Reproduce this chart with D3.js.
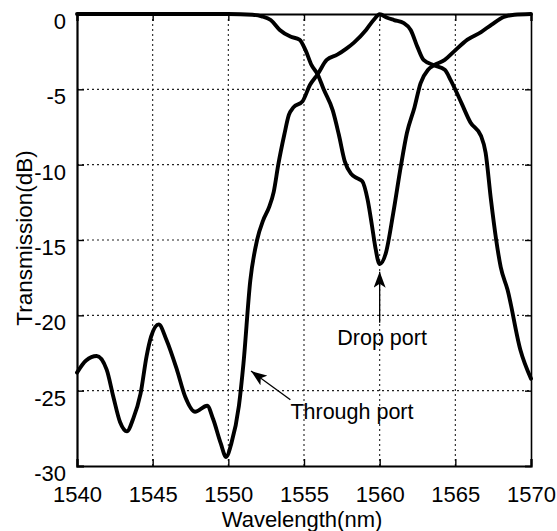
<!DOCTYPE html>
<html>
<head>
<meta charset="utf-8">
<script src="https://cdn.jsdelivr.net/npm/d3@7"></script>
<style>
  body { margin: 0; background: #fff; }
  text { font-family: "Liberation Sans", Arial, Helvetica, sans-serif; fill: #000; }
</style>
</head>
<body>
<div id="chart"></div>
<script>
// ===========================================
// data
var xTicks = [1540, 1545, 1550, 1555, 1560, 1565, 1570];
var yTicks = [0, -5, -10, -15, -20, -25, -30];

var throughWl = [1540, 1540.6, 1541.3, 1541.96, 1542.4, 1542.85, 1543.3, 1543.7, 1544.2, 1544.6,
  1544.9, 1545.4, 1545.9, 1546.6, 1547.15, 1547.8, 1548.6, 1549.0, 1549.5, 1549.85,
  1550.2, 1550.7, 1551.0, 1551.45, 1551.9, 1552.3, 1552.7, 1553.0, 1553.3, 1553.7,
  1554.0, 1554.3, 1554.9, 1555.4, 1555.9, 1556.5, 1557.2, 1557.8, 1558.3, 1559.1,
  1559.6, 1560.0, 1560.5, 1560.95, 1561.6, 1562.05, 1562.5, 1562.9, 1563.6, 1564.3,
  1564.7, 1565.4, 1566.0, 1566.7, 1567.0, 1567.35, 1567.7, 1568.0, 1568.45, 1569.3, 1570];
var throughDb = [-23.8, -23.0, -22.7, -23.6, -25.4, -27.1, -27.7, -26.9, -25.2, -22.7,
  -21.4, -20.6, -21.6, -23.6, -25.4, -26.4, -26.0, -26.9, -28.5, -29.4,
  -28.5, -26.0, -23.2, -17.7, -15.0, -13.7, -12.8, -11.8, -10.0, -8.0,
  -6.7, -6.2, -5.8, -4.7, -4.0, -3.05, -2.7, -2.3, -1.9, -1.06,
  -0.4, -0.02, -0.25, -0.4, -0.6, -1.06, -2.2, -3.05, -3.4, -3.7,
  -4.4, -5.9, -7.2, -8.1, -9.2, -12.3, -15.0, -16.8, -18.3, -22.3, -24.2];

var dropWl = [1540, 1545, 1550, 1551.6, 1552.2, 1552.8, 1553.4, 1554.1, 1554.7, 1555.1,
  1555.5, 1555.9, 1556.3, 1556.9, 1557.3, 1557.7, 1558.1, 1558.5, 1558.85, 1559.2,
  1559.5, 1559.7, 1560.0, 1560.4, 1560.9, 1561.4, 1561.8, 1562.3, 1562.7, 1563.2,
  1563.6, 1564.3, 1564.9, 1565.8, 1566.7, 1567.4, 1568.2, 1568.9, 1570];
var dropDb = [0, 0, 0, -0.05, -0.15, -0.4, -1.06, -1.5, -1.7, -2.4,
  -3.4, -4.0, -5.0, -6.4, -8.0, -9.8, -10.6, -10.9, -11.1, -12.3,
  -14.1, -15.4, -16.6, -15.9, -13.2, -10.1, -7.9, -6.2, -4.6, -3.7,
  -3.4, -3.05, -2.5, -1.7, -1.2, -0.7, -0.2, -0.05, 0];

// annotations (data units): text anchor and arrow tail -> tip
var labels = ["Drop port", "Through port"];
var labelAt = [[1557.2, -21.95], [1554.1, -26.9]];
var arrowFrom = [[1560.0, -20.5], [1554.1, -25.6]];
var arrowTo = [[1560.0, -17.1], [1551.5, -23.7]];

// ===========================================
// svg & chart area
var svgWidth = 557;
var svgHeight = 531;
var margin = {top: 14, right: 26, bottom: 65, left: 77};
var chartWidth = svgWidth - margin.left - margin.right;
var chartHeight = svgHeight - margin.top - margin.bottom;

var svg = d3.select("#chart")
    .append("svg")
    .attr("width", svgWidth)
    .attr("height", svgHeight);

var chartGroup = svg.append("g")
    .attr("transform", `translate(${margin.left},${margin.top})`);

var xscale = d3.scaleLinear().domain([1540, 1570]).range([0, chartWidth]);
var yscale = d3.scaleLinear().domain([-30, 0]).range([chartHeight, 0]);

// dotted grid
var inner = function(t, i, arr) { return i > 0 && i < arr.length - 1; };
chartGroup.selectAll(".vgrid")
    .data(xTicks.filter(inner))
    .enter().append("line")
    .attr("x1", d => xscale(d)).attr("x2", d => xscale(d))
    .attr("y1", 0).attr("y2", chartHeight)
    .attr("stroke", "#222").attr("stroke-width", 1.1)
    .attr("stroke-dasharray", "2,3");
chartGroup.selectAll(".hgrid")
    .data(yTicks.filter(inner))
    .enter().append("line")
    .attr("y1", d => yscale(d)).attr("y2", d => yscale(d))
    .attr("x1", 0).attr("x2", chartWidth)
    .attr("stroke", "#222").attr("stroke-width", 1.1)
    .attr("stroke-dasharray", "2,3");

// axes with inward ticks (plain hyphen minus like the original)
var fmt = d => String(d);
var bAxis = d3.axisBottom(xscale).tickValues(xTicks).tickSize(-7).tickPadding(20).tickFormat(fmt);
var lAxis = d3.axisLeft(yscale).tickValues(yTicks).tickSize(-7).tickPadding(12).tickFormat(fmt);
var tAxis = d3.axisTop(xscale).tickValues(xTicks).tickSize(-7).tickFormat("");
var rAxis = d3.axisRight(yscale).tickValues(yTicks).tickSize(-6).tickFormat("");

var gb = chartGroup.append("g").attr("transform", `translate(0,${chartHeight})`).call(bAxis);
var gl = chartGroup.append("g").call(lAxis);
var gt = chartGroup.append("g").call(tAxis);
var gr = chartGroup.append("g").attr("transform", `translate(${chartWidth},0)`).call(rAxis);

[gb, gl, gt, gr].forEach(function(g) {
    g.selectAll("path.domain").attr("stroke", "#000").attr("stroke-width", 2.2);
    g.selectAll(".tick line").attr("stroke", "#000").attr("stroke-width", 1.4);
    g.selectAll(".tick text").attr("font-size", "22px").attr("fill", "#000")
        .style("font-family", "'Liberation Sans', Arial, sans-serif");
});
gr.select("path.domain").attr("stroke-width", 1.6);
gl.selectAll(".tick text").attr("dy", "0.66em").attr("x", -11);

// curves
var line = d3.line()
    .x(d => xscale(d[0]))
    .y(d => yscale(d[1]))
    .curve(d3.curveMonotoneX);

var series = [d3.zip(throughWl, throughDb), d3.zip(dropWl, dropDb)];
chartGroup.selectAll(".curve")
    .data(series)
    .enter().append("path")
    .attr("class", "curve")
    .attr("d", line)
    .attr("fill", "none")
    .attr("stroke", "#000")
    .attr("stroke-width", 3.9)
    .attr("stroke-linejoin", "round")
    .attr("stroke-linecap", "round");

// arrows + labels
svg.append("defs").append("marker")
    .attr("id", "head")
    .attr("markerUnits", "userSpaceOnUse")
    .attr("viewBox", "0 0 16 12")
    .attr("refX", 16).attr("refY", 6)
    .attr("markerWidth", 16).attr("markerHeight", 12)
    .attr("orient", "auto")
    .append("path")
    .attr("d", "M0,0 L16,6 L0,12 L4,6 Z")
    .attr("fill", "#000");

chartGroup.selectAll(".arrow")
    .data(d3.range(labels.length))
    .enter().append("line")
    .attr("x1", i => xscale(arrowFrom[i][0]))
    .attr("y1", i => yscale(arrowFrom[i][1]))
    .attr("x2", i => xscale(arrowTo[i][0]))
    .attr("y2", i => yscale(arrowTo[i][1]))
    .attr("stroke", "#000")
    .attr("stroke-width", 1.3)
    .attr("marker-end", "url(#head)");

chartGroup.selectAll(".lbl")
    .data(labels)
    .enter().append("text")
    .attr("x", (d, i) => xscale(labelAt[i][0]))
    .attr("y", (d, i) => yscale(labelAt[i][1]))
    .attr("font-size", "21.5px")
    .text(d => d);

// axis titles
svg.append("text")
    .attr("x", margin.left + chartWidth / 2 - 2)
    .attr("y", 527)
    .attr("text-anchor", "middle")
    .attr("font-size", "22px")
    .text("Wavelength(nm)");

svg.append("text")
    .attr("transform", "translate(32,238) rotate(-90)")
    .attr("text-anchor", "middle")
    .attr("font-size", "22.5px")
    .text("Transmission(dB)");
</script>
</body>
</html>
